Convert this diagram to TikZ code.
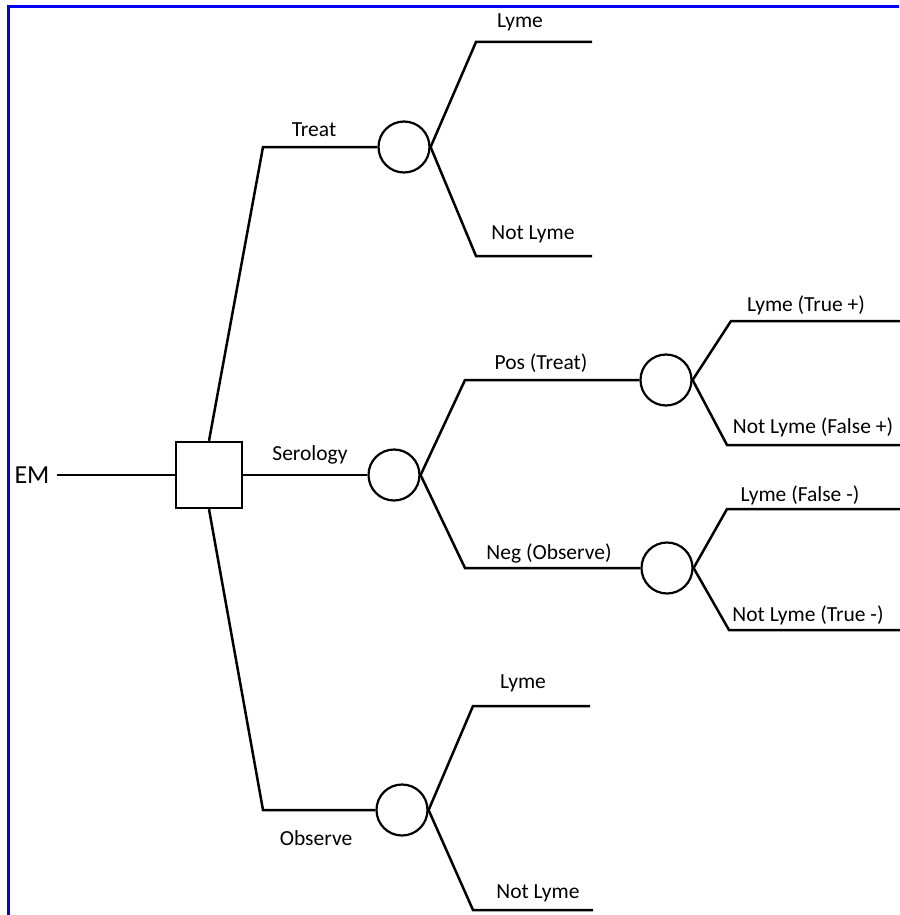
\documentclass[tikz,border=0pt]{standalone}
\usepackage{fontspec}
\setmainfont{Carlito}

\begin{document}
\begin{tikzpicture}[x=1pt,y=-1pt,
decnode/.style={draw=black, line width=2.4pt, minimum size=66pt, inner sep=0pt},
chancenode/.style={circle, draw=black, line width=2.2pt, minimum size=51pt, inner sep=0pt},
lbl/.style={font=\fontsize{21.5}{24}\selectfont, inner sep=0pt},
branch/.style={line width=2.5pt, line join=miter}
]
    \useasboundingbox (0,0) rectangle (899,915);
    \draw[blue, line width=3pt] (8,915) -- (8,7) -- (899,7);

    % root
    \node[lbl, font=\fontsize{26}{28}\selectfont, inner xsep=7pt] (em) at (32,475){EM};
    \node[decnode] (dec) at (209,475){};

    % chance nodes
    \node[chancenode] (treat) at (404,147){};
    \node[chancenode] (sero) at (394,475){};
    \node[chancenode] (obs) at (402,810){};
    \node[chancenode] (pos) at (666,380){};
    \node[chancenode] (neg) at (667,568){};

    % corners and ends
    \coordinate (tk) at (263,147);
    \coordinate (ok) at (263,810);
    \coordinate (t1k) at (476,42);   \coordinate (t1e) at (592,42);
    \coordinate (t2k) at (476,256);  \coordinate (t2e) at (592,256);
    \coordinate (s1k) at (465,380);
    \coordinate (s2k) at (465,568);
    \coordinate (p1k) at (731,321);  \coordinate (p1e) at (902,321);
    \coordinate (p2k) at (727,445);  \coordinate (p2e) at (902,445);
    \coordinate (n1k) at (727,509);  \coordinate (n1e) at (902,509);
    \coordinate (n2k) at (729,630);  \coordinate (n2e) at (902,630);
    \coordinate (o1k) at (473,706);  \coordinate (o1e) at (590,706);
    \coordinate (o2k) at (473,910);  \coordinate (o2e) at (593,910);

    \draw[branch] (em) -- (dec);
    \draw[branch] (dec.north) -- (tk) -- (treat);
    \draw[branch] (dec) -- (sero);
    \draw[branch] (dec.south) -- (ok) -- (obs);

    \draw[branch] (treat.east) -- (t1k) -- (t1e);
    \draw[branch] (treat.east) -- (t2k) -- (t2e);
    \draw[branch] (sero.east) -- (s1k) -- (pos);
    \draw[branch] (sero.east) -- (s2k) -- (neg);
    \draw[branch] (pos.east) -- (p1k) -- (p1e);
    \draw[branch] (pos.east) -- (p2k) -- (p2e);
    \draw[branch] (neg.east) -- (n1k) -- (n1e);
    \draw[branch] (neg.east) -- (n2k) -- (n2e);
    \draw[branch] (obs.east) -- (o1k) -- (o1e);
    \draw[branch] (obs.east) -- (o2k) -- (o2e);

    % labels
    \node[lbl] (ltreat) at (314,130){Treat};
    \node[lbl] (lsero) at (310,455){Serology};
    \node[lbl] (lobs) at (316,838){Observe};
    \node[lbl] (lt1) at (520,22){Lyme};
    \node[lbl] (lt2) at (533,234){Not Lyme};
    \node[lbl] (lpos) at (541,363){Pos (Treat)};
    \node[lbl] (lneg) at (549,553){Neg (Observe)};
    \node[lbl] (lp1) at (806,305){Lyme (True +)};
    \node[lbl] (lp2) at (813,427){Not Lyme (False +)};
    \node[lbl] (ln1) at (800,495){Lyme (False -)};
    \node[lbl] (ln2) at (808,615){Not Lyme (True -)};
    \node[lbl] (lo1) at (523,683){Lyme};
    \node[lbl] (lo2) at (538,893){Not Lyme};
\end{tikzpicture}
\end{document}
